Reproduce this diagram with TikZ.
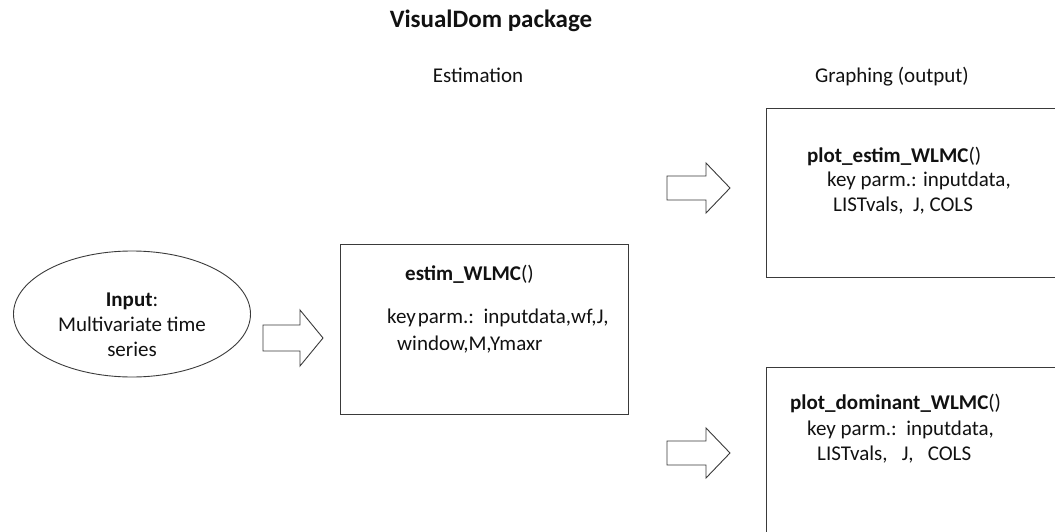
\documentclass[tikz,border=0pt]{standalone}
\usepackage{fontspec}
\setmainfont{Carlito}
\usetikzlibrary{shapes.geometric}
\definecolor{linec}{HTML}{3A3A3A}
\definecolor{txtc}{HTML}{111111}
\newcommand{\bodyfont}{\fontsize{21}{25}\selectfont}
\tikzset{
  lbl/.style={text=txtc, inner sep=0pt, font=\bodyfont},
  lblw/.style={lbl, anchor=west},
  fnw/.style={lblw, font=\bfseries\bodyfont},
  frame/.style={draw=linec, line width=0.9pt},
  blockarrow/.style={draw=linec, line width=0.9pt, fill=white},
}
\begin{document}
\begin{tikzpicture}[x=1pt,y=-1pt]
\clip (0,0) rectangle (1055,532);
\useasboundingbox (0,0) rectangle (1055,532);
% title and headings
\node[lbl, font=\bfseries\fontsize{25}{30}\selectfont] (title) at (491,21) {VisualDom package};
\node[lbl] (est) at (478,75) {Estimation};
\node[lbl] (graph) at (892,77) {Graphing (output)};
% input ellipse
\node[ellipse, frame, minimum width=237pt, minimum height=126pt, inner sep=0pt] (input) at (132,314) {};
\node[lbl, align=center, font=\fontsize{21}{25}\selectfont] (intext) at (132,325)
  {\textbf{Input}:\\Multivariate time\\series};
% block arrows
\draw[blockarrow] (263,325) -- (300,325) -- (300,310) -- (323,338) -- (300,366) -- (300,351) -- (263,351) -- cycle;
\draw[blockarrow] (667,176) -- (706,176) -- (706,163) -- (730,188) -- (706,213) -- (706,200) -- (667,200) -- cycle;
\draw[blockarrow] (667,441) -- (706,441) -- (706,428) -- (730,453) -- (706,478) -- (706,465) -- (667,465) -- cycle;
% estimation box
\node[frame, rectangle, minimum width=288pt, minimum height=170pt, inner sep=0pt] (estbox) at (484,329) {};
\node[fnw] (estf) at (405,274) {estim\_WLMC\textmd{()}};
\node[lblw] (estk1) at (387,318) {key\hspace{2pt}parm.:\ \ inputdata,wf,J,};
\node[lblw] (estk2) at (397,345) {window,M,Ymaxr};
% graphing box 1 (cut at right edge)
\coordinate (g1tl) at (766,108);
\coordinate (g1tr) at (1060,108);
\coordinate (g1bl) at (766,277);
\coordinate (g1br) at (1060,277);
\draw[frame] (g1tr) -- (g1tl) -- (g1bl) -- (g1br);
\node[fnw] (p1f) at (807,156) {plot\_estim\_WLMC\textmd{()}};
\node[lblw] (p1k1) at (827,181) {key parm.: inputdata,};
\node[lblw] (p1k2) at (833,206) {LISTvals,\ \ J, COLS};
% graphing box 2 (cut at right and bottom edges)
\coordinate (g2tl) at (766,367);
\coordinate (g2tr) at (1060,367);
\coordinate (g2bl) at (766,540);
\draw[frame] (g2tr) -- (g2tl) -- (g2bl);
\node[fnw] (p2f) at (790,403) {plot\_dominant\_WLMC\textmd{()}};
\node[lblw] (p2k1) at (807,430) {key parm.:\ \ inputdata,};
\node[lblw] (p2k2) at (817,455) {LISTvals,\ \ \ J,\ \ \ COLS};
\end{tikzpicture}
\end{document}
